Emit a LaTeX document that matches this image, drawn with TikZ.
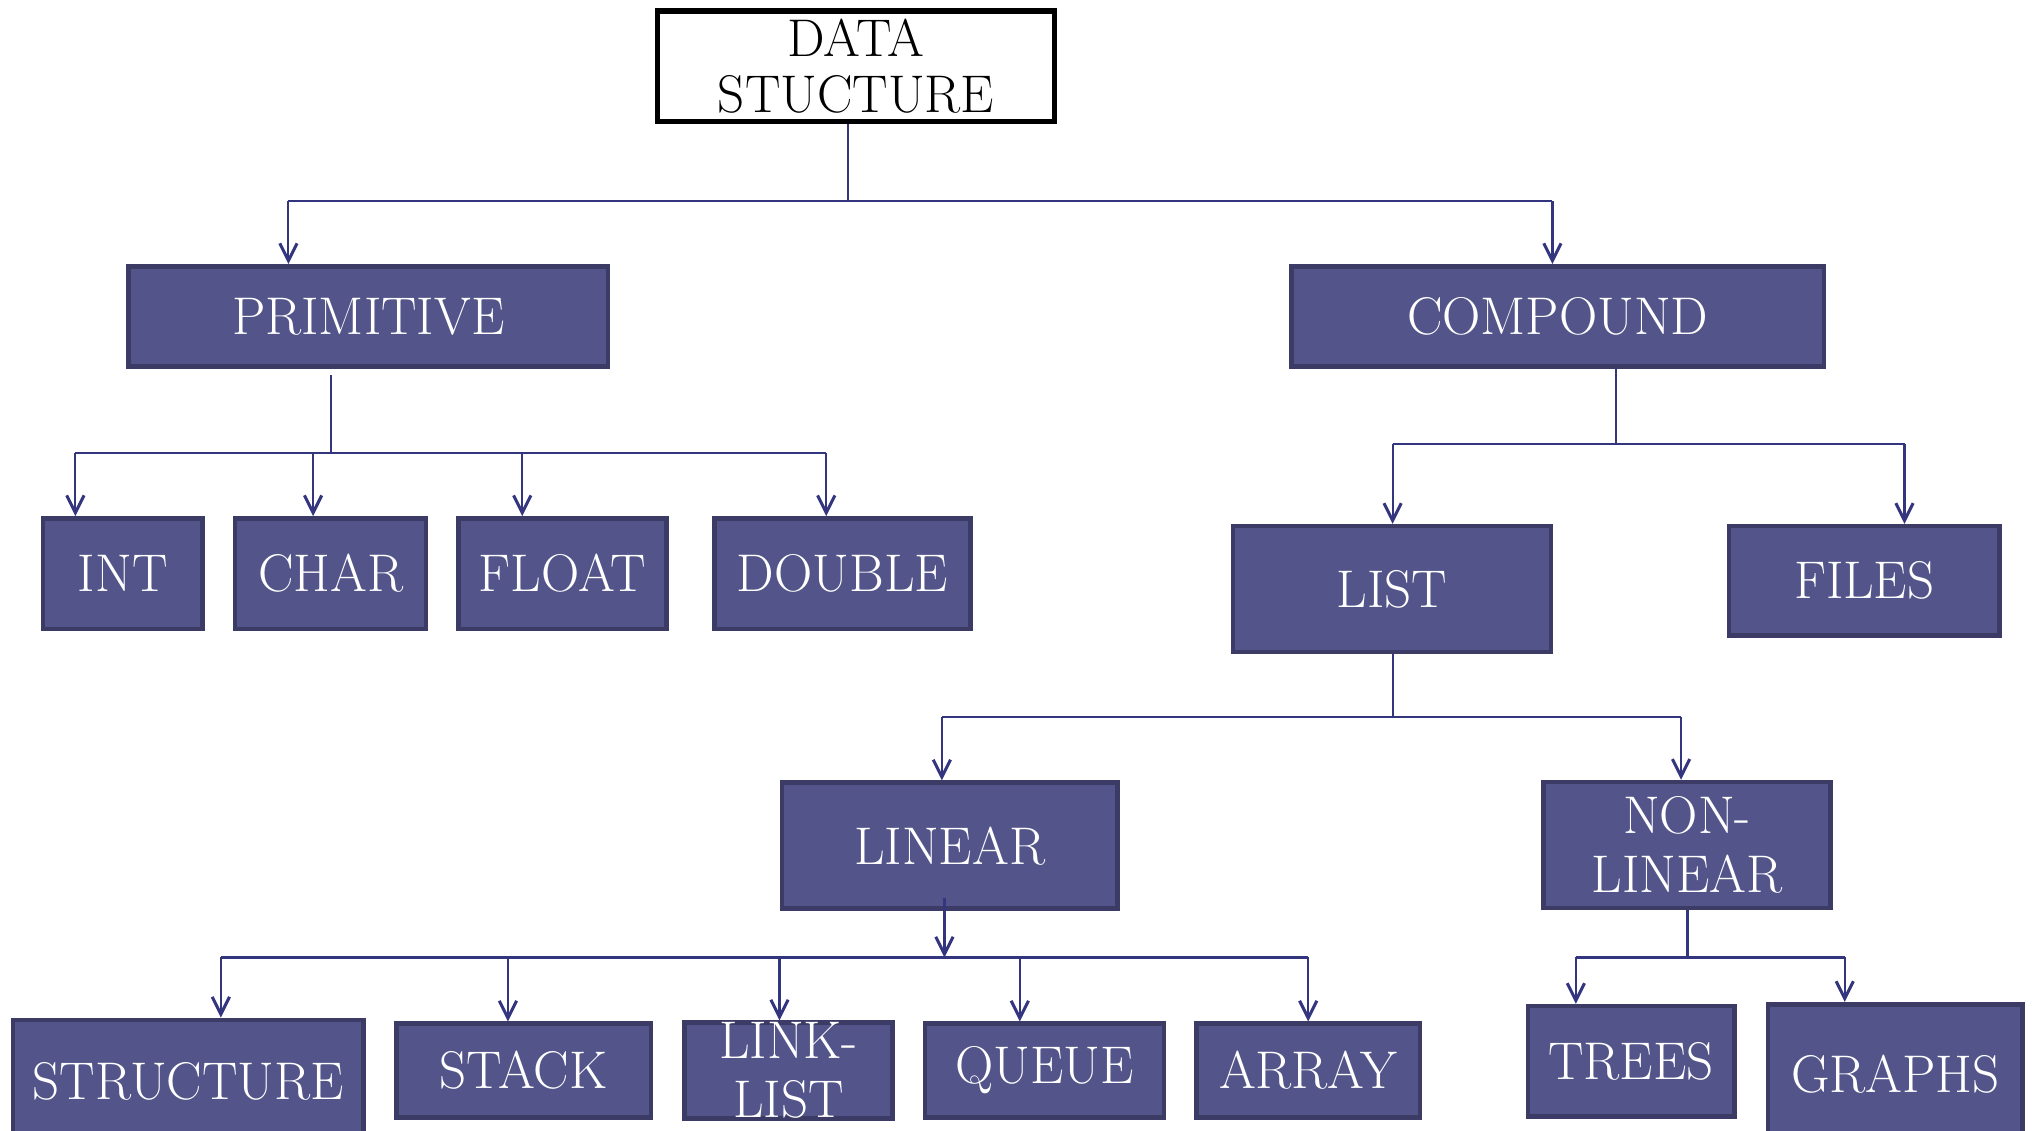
\documentclass[tikz,border=0pt]{standalone}
\usetikzlibrary{arrows.meta}
\definecolor{boxfill}{HTML}{53558A}
\definecolor{boxedge}{HTML}{3B3B66}
\definecolor{wirecol}{HTML}{33357F}
\tikzset{
  box/.style={draw=boxedge,line width=2.1pt,fill=boxfill,text=white,inner sep=0pt,
    align=center,font=\fontsize{24.5}{27}\selectfont},
  rootbox/.style={draw=black,line width=2.4pt,fill=white,text=black,inner sep=0pt,
    align=center,font=\fontsize{24.5}{26}\selectfont},
  sz/.style n args={2}{minimum width=#1*0.6pt,minimum height=#2*0.6pt},
  wire/.style={draw=wirecol,line width=1pt},
  arr/.style={wire,-{Straight Barb[length=8pt,width=8pt,line width=1.4pt]}}
}
\begin{document}
\begin{tikzpicture}[x=0.6pt,y=-0.6pt]
\useasboundingbox (0,0) rectangle (1568,870);
\clip (0,0) rectangle (1568,870);

% boxes
\node[rootbox,sz={306}{85}] (ds) at (659,51) {DATA\\STUCTURE};
\node[box,sz={369}{77}] (prim) at (283.5,243.5) {PRIMITIVE};
\node[box,sz={410}{77}] (comp) at (1199,243.5) {COMPOUND};
\node[box,sz={123}{85}] (int) at (94.5,441.5) {INT};
\node[box,sz={147}{85}] (char) at (254.5,441.5) {CHAR};
\node[box,sz={160}{85}] (float) at (433,441.5) {FLOAT};
\node[box,sz={197}{85}] (double) at (648.5,441.5) {DOUBLE};
\node[box,sz={245}{97}] (list) at (1071.5,453.5) {LIST};
\node[box,sz={208}{84}] (files) at (1435,447) {FILES};
\node[box,sz={258}{97}] (linear) at (731,651) {LINEAR};
\node[box,sz={221}{97}] (nonlin) at (1298.5,650.5) {NON-\\LINEAR};
\node[box,sz={270}{94}] (struct) at (145,832) {STRUCTURE};
\node[box,sz={196}{72}] (stack) at (403,824) {STACK};
\node[box,sz={160}{72}] (link) at (607,824) {LINK-\\LIST};
\node[box,sz={184}{72}] (queue) at (804,824) {QUEUE};
\node[box,sz={172}{72}] (array) at (1007,824) {ARRAY};
\node[box,sz={159}{85}] (trees) at (1255.5,817) {TREES};
\node[box,sz={196}{107}] (graphs) at (1459,826.5) {GRAPHS};

% data structure -> primitive / compound
\coordinate (r0) at (653,155);
\coordinate (r1) at (222,155);
\coordinate (r2) at (1195,155);
\draw[wire] (r0 |- ds.south) -- (r0);
\draw[wire] (r1) -- (r2);
\draw[arr] (r1) -- (r1 |- prim.north);
\draw[arr] (r2) -- (r2 |- comp.north);

% primitive -> int, char, float, double
\coordinate (p0) at (255,349);
\coordinate (p1) at (58,349);
\coordinate (p2) at (241,349);
\coordinate (p3) at (402,349);
\coordinate (p4) at (636,349);
\draw[wire] ([yshift=-3pt]p0 |- prim.south) -- (p0);
\draw[wire] (p1) -- (p4);
\draw[arr] (p1) -- (p1 |- int.north);
\draw[arr] (p2) -- (p2 |- char.north);
\draw[arr] (p3) -- (p3 |- float.north);
\draw[arr] (p4) -- (p4 |- double.north);

% compound -> list, files
\coordinate (c0) at (1244,342);
\coordinate (c1) at (1072,342);
\coordinate (c2) at (1466,342);
\draw[wire] (c0 |- comp.south) -- (c0);
\draw[wire] (c1) -- (c2);
\draw[arr] (c1) -- (c1 |- list.north);
\draw[arr] (c2) -- (c2 |- files.north);

% list -> linear, non-linear
\coordinate (l0) at (1072,552);
\coordinate (l1) at (725,552);
\coordinate (l2) at (1294,552);
\draw[wire] (l0 |- list.south) -- (l0);
\draw[wire] (l1) -- (l2);
\draw[arr] (l1) -- (l1 |- linear.north);
\draw[arr] (l2) -- (l2 |- nonlin.north);

% linear -> structure, stack, link-list, queue, array
\coordinate (n0) at (727,737);
\coordinate (n1) at (170,737);
\coordinate (n2) at (391,737);
\coordinate (n3) at (600,737);
\coordinate (n4) at (785,737);
\coordinate (n5) at (1007,737);
\draw[wire] (n1) -- (n5);
\draw[arr] ([yshift=6pt]n0 |- linear.south) -- (n0);
\draw[arr] (n1) -- (n1 |- struct.north);
\draw[arr] (n2) -- (n2 |- stack.north);
\draw[arr] (n3) -- (n3 |- link.north);
\draw[arr] (n4) -- (n4 |- queue.north);
\draw[arr] (n5) -- (n5 |- array.north);

% non-linear -> trees, graphs
\coordinate (m0) at (1299,737);
\coordinate (m1) at (1213,737);
\coordinate (m2) at (1420,737);
\draw[wire] (m0 |- nonlin.south) -- (m0);
\draw[wire] (m1) -- (m2);
\draw[arr] (m1) -- (m1 |- trees.north);
\draw[arr] (m2) -- (m2 |- graphs.north);
\end{tikzpicture}
\end{document}
